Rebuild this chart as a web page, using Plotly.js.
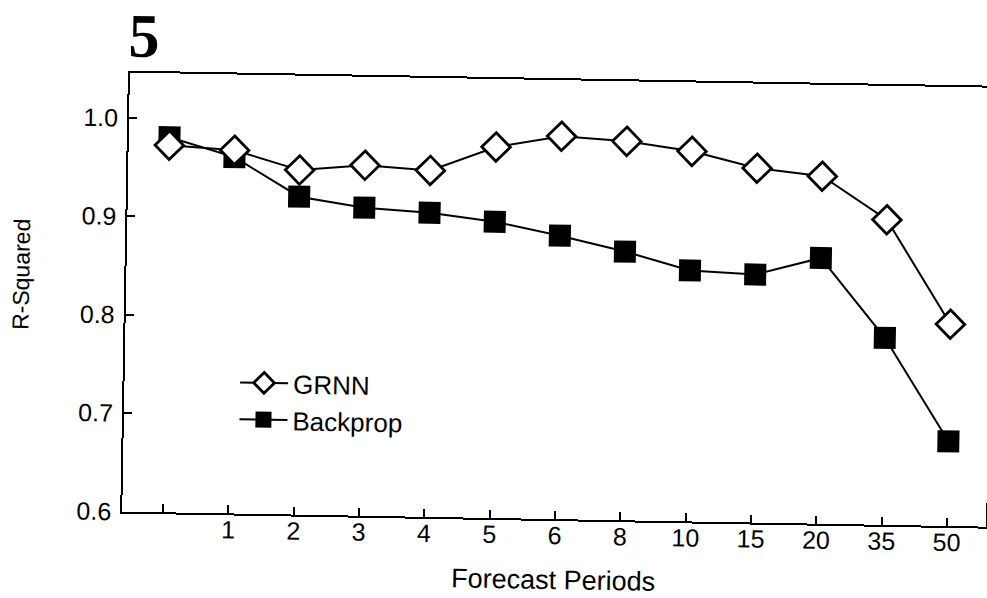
<!DOCTYPE html>
<html>
<head>
<meta charset="utf-8">
<script src="https://cdn.plot.ly/plotly-3.0.1.min.js"></script>
<style>
  html, body { margin: 0; padding: 0; background: #fff; overflow: hidden; width: 987px; height: 598px; }
  #chart { position: absolute; left: 0; top: 0; width: 1000px; height: 598px;
           transform: rotate(1deg); transform-origin: 493px 299px; }
</style>
</head>
<body>
<div id="chart"></div>
<script>
// Forecast horizon categories (first tick is unlabeled)
const periods = ['', '1', '2', '3', '4', '5', '6', '8', '10', '15', '20', '35', '50'];
// R-squared values
const grnn     = [0.973, 0.969, 0.950, 0.956, 0.952, 0.977, 0.989, 0.985, 0.976, 0.960, 0.953, 0.910, 0.805];
const backprop = [0.981, 0.962, 0.923, 0.913, 0.909, 0.901, 0.888, 0.873, 0.855, 0.852, 0.870, 0.790, 0.686];
const yTicks = [0.6, 0.7, 0.8, 0.9, 1.0];

const xIdx = periods.map((_, i) => i);
const FONT = 'Liberation Sans, Arial, sans-serif';

const traces = [
  {
    name: 'Backprop', x: xIdx, y: backprop, type: 'scatter', mode: 'lines+markers',
    line: { color: '#000', width: 2 },
    marker: { symbol: 'square', size: 22, color: '#000', line: { width: 0 } },
    legendrank: 2
  },
  {
    name: 'GRNN', x: xIdx, y: grnn, type: 'scatter', mode: 'lines+markers',
    line: { color: '#000', width: 2 },
    marker: { symbol: 'diamond', size: 22, color: '#fff', line: { color: '#000', width: 2.8 } },
    legendrank: 1
  }
];

const layout = {
  width: 1000, height: 598,
  margin: { l: 126, r: 10, t: 79, b: 80, pad: 0 },
  paper_bgcolor: '#fff', plot_bgcolor: '#fff',
  font: { family: FONT, color: '#000', size: 25 },
  showlegend: true,
  legend: {
    x: 0.128, y: 0.352, xanchor: 'left', yanchor: 'top',
    bgcolor: 'rgba(0,0,0,0)', borderwidth: 0,
    font: { family: FONT, size: 26, color: '#000' },
    itemwidth: 48, tracegroupgap: 0
  },
  xaxis: {
    range: [-0.623, 12.6],
    tickmode: 'array', tickvals: xIdx, ticktext: periods,
    ticks: 'inside', ticklen: 8, tickwidth: 2, tickcolor: '#000',
    showline: true, linecolor: '#000', linewidth: 2, mirror: true,
    showgrid: false, zeroline: false,
    ticklabelstandoff: -7,
    tickfont: { family: FONT, size: 25, color: '#000' },
    title: { text: 'Forecast Periods', font: { family: FONT, size: 27, color: '#000' }, standoff: 22 }
  },
  yaxis: {
    range: [0.6, 1.046],
    tickmode: 'array', tickvals: yTicks, ticktext: yTicks.map(v => v.toFixed(1)),
    ticks: 'inside', ticklen: 8, tickwidth: 2, tickcolor: '#000',
    showline: true, linecolor: '#000', linewidth: 2, mirror: true,
    showgrid: false, zeroline: false,
    ticklabelstandoff: 4,
    tickfont: { family: FONT, size: 25, color: '#000' }
  },
  annotations: [
    {
      text: '<b>5</b>', xref: 'paper', yref: 'paper', x: 0, y: 1.166,
      xanchor: 'left', yanchor: 'top', xshift: -4, showarrow: false,
      font: { family: 'Liberation Serif, Times New Roman, serif', size: 62, color: '#000' }
    },
    {
      text: 'R-Squared', xref: 'paper', yref: 'paper', x: 0, y: 0.535,
      xanchor: 'center', yanchor: 'middle', xshift: -105, textangle: -90, showarrow: false,
      font: { family: FONT, size: 23, color: '#000' }
    }
  ]
};

Plotly.newPlot('chart', traces, layout, { displayModeBar: false, staticPlot: true });
</script>
</body>
</html>
